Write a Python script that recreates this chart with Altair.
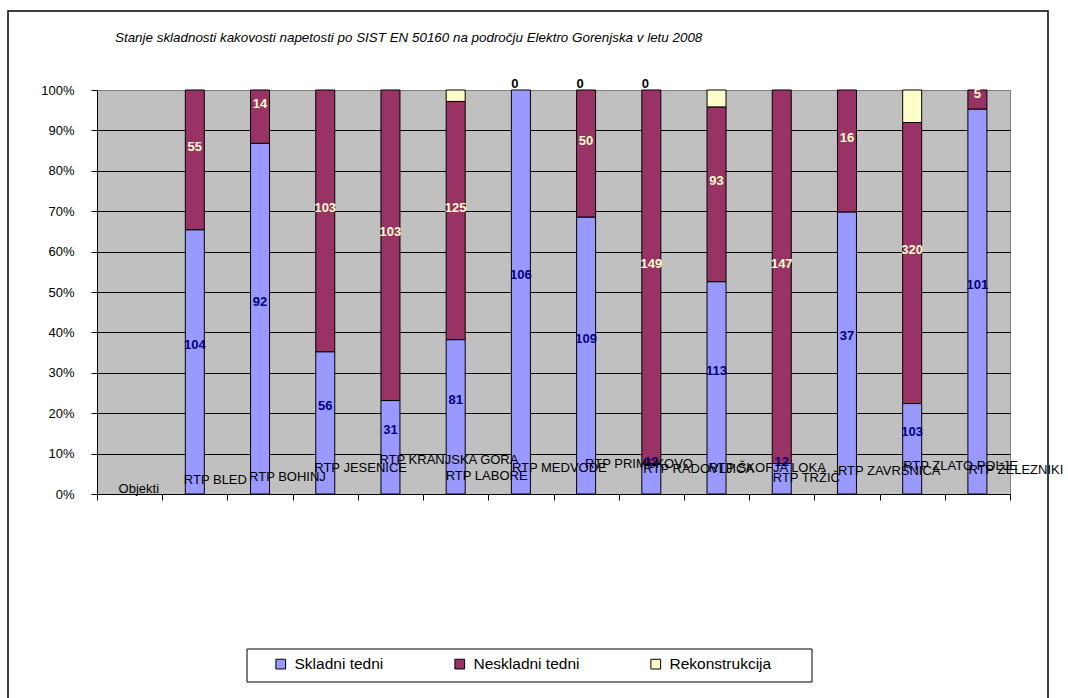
import altair as alt
import pandas as pd

# ---- data -------------------------------------------------------------
TITLE = ("Stanje skladnosti kakovosti napetosti po SIST EN 50160 "
         "na področju Elektro Gorenjska v letu 2008")
FIRST_CATEGORY = "Objekti"
STATIONS = [
    "RTP BLED", "RTP BOHINJ", "RTP JESENICE", "RTP KRANJSKA GORA",
    "RTP LABORE", "RTP MEDVODE", "RTP PRIMSKOVO", "RTP RADOVLJICA",
    "RTP ŠKOFJA LOKA", "RTP TRŽIČ", "RTP ZAVRŠNICA", "RTP ZLATO POLJE",
    "RTP ŽELEZNIKI",
]
SKLADNI = [104, 92, 56, 31, 81, 106, 109, 12, 113, 12, 37, 103, 101]
NESKLADNI = [55, 14, 103, 103, 125, 0, 50, 149, 93, 147, 16, 320, 5]
REKONSTRUKCIJA = [None, None, None, None, 6, 0, 0, 0, 9, None, None, 37, None]

SERIES = ["Skladni tedni", "Neskladni tedni", "Rekonstrukcija"]
COLORS = ["#9999FF", "#993366", "#FFFFCC"]
Y_TICKS = [i / 10 for i in range(11)]

# ---- layout -----------------------------------------------------------
W, H = 913, 404
FONT = "Liberation Sans"
# (dx, dy) of each category name, relative to the band centre / plot bottom
LABEL_NUDGE = [(-11, -5), (-11, -14), (-11, -17), (-11, -26), (-11, -34),
               (-10, -18), (-9, -26), (-1, -30), (-8, -25), (-8, -26),
               (-9, -16), (-9, -23), (-9, -28), (-9, -24)]

categories = [FIRST_CATEGORY] + STATIONS

rows = []
for i, st in enumerate(STATIONS):
    for k, vals in enumerate([SKLADNI, NESKLADNI, REKONSTRUKCIJA]):
        v = vals[i]
        if v is None:
            continue
        rows.append({"postaja": st, "serija": SERIES[k], "red": k, "tedni": v})
df = pd.DataFrame(rows)

x_enc = alt.X(
    "postaja:N",
    scale=alt.Scale(domain=categories, paddingInner=0, paddingOuter=0),
    axis=alt.Axis(title=None, labels=False, ticks=True, tickBand="extent",
                  tickSize=6, tickColor="black", domainColor="black",
                  grid=False),
)
y_scale = alt.Scale(domain=[0, 1], nice=False)
y_axis = alt.Axis(
    title=None, values=Y_TICKS, format=".0%", tickSize=6, tickColor="black",
    labelPadding=17, domainColor="black",
    gridColor={"condition": {"test": "datum.value >= 1", "value": "#808080"},
               "value": "black"},
    gridWidth=1,
)

base = alt.Chart(df).transform_stack(
    stack="tedni", groupby=["postaja"], as_=["y0", "y1"], offset="normalize",
    sort=[alt.SortField("red", order="ascending")],
).transform_calculate(mid="(datum.y0 + datum.y1) / 2")

bars = base.transform_filter("datum.tedni > 0").mark_bar(
    size=19, stroke="black", strokeWidth=1
).encode(
    x=x_enc,
    y=alt.Y("y0:Q", scale=y_scale, axis=y_axis),
    y2="y1:Q",
    color=alt.Color(
        "serija:N",
        scale=alt.Scale(domain=SERIES, range=COLORS),
        legend=alt.Legend(
            orient="none", legendX=176, legendY=566, direction="horizontal",
            columns=3, title=None, symbolType="square", symbolSize=95,
            symbolStrokeColor="black", symbolStrokeWidth=1,
            labelFont=FONT, labelFontSize=15.5, labelColor="black",
            labelOffset=6, columnPadding=68, padding=0,
        ),
    ),
)


def value_labels(test, colour, lift):
    # label sits a little above the segment centre, but never above the bar
    return base.transform_filter(test).transform_calculate(
        lab=f"min(datum.mid + {lift} / {H}, 0.99)"
    ).mark_text(
        font=FONT, fontSize=13, fontWeight="bold", color=colour,
        baseline="middle",
    ).encode(
        x=x_enc,
        y=alt.Y("lab:Q", scale=y_scale, axis=y_axis),
        text="tedni:Q",
    )


lbl_skl = value_labels("datum.serija == 'Skladni tedni'", "#000080", 17)
lbl_nes = value_labels("datum.serija == 'Neskladni tedni' && datum.tedni > 0",
                       "#FFFFCC", 13)
# reconstruction weeks equal to zero are written above the bar
lbl_rek = base.transform_filter(
    "datum.serija == 'Rekonstrukcija' && datum.tedni == 0"
).mark_text(
    font=FONT, fontSize=13, fontWeight="bold", color="black",
    dx=-6, dy=-6, baseline="middle",
).encode(
    x=x_enc,
    y=alt.Y("y1:Q", scale=y_scale, axis=y_axis),
    text="tedni:Q",
)

cat_df = pd.DataFrame({"postaja": categories})
cat_layers = []
for name, (dx, dy) in zip(categories, LABEL_NUDGE):
    cat_layers.append(
        alt.Chart(cat_df).transform_filter(alt.datum.postaja == name)
        .mark_text(font=FONT, fontSize=13, color="black", align="left",
                   baseline="middle", dx=dx, dy=dy)
        .encode(x=x_enc, y=alt.value(H), text="postaja:N")
    )

one = pd.DataFrame({"t": [TITLE]})
title = alt.Chart(one).mark_text(
    font=FONT, fontSize=13.4, fontStyle="italic", color="black",
    align="left", baseline="middle",
).encode(x=alt.value(18), y=alt.value(-52), text="t:N")

frame = alt.Chart(one).mark_rect(
    fillOpacity=0, stroke="black", strokeWidth=1.5
).encode(x=alt.value(-89), x2=alt.value(951), y=alt.value(-79),
         y2=alt.value(640))

legend_box = alt.Chart(one).mark_rect(
    fill="white", stroke="black", strokeWidth=1
).encode(x=alt.value(150), x2=alt.value(715), y=alt.value(559),
         y2=alt.value(592))

chart = alt.layer(
    frame, legend_box, bars, lbl_skl, lbl_nes, lbl_rek, *cat_layers, title
).properties(
    width=W, height=H, autosize="none",
    padding={"left": 97, "top": 90, "right": 58, "bottom": 204},
    background="white",
).configure_view(
    fill="#C0C0C0", stroke="#808080", strokeWidth=1
).configure_axis(
    labelFont=FONT, labelFontSize=13, labelColor="black"
)

chart.save("out.html", embed_options={"renderer": "svg", "actions": False})
